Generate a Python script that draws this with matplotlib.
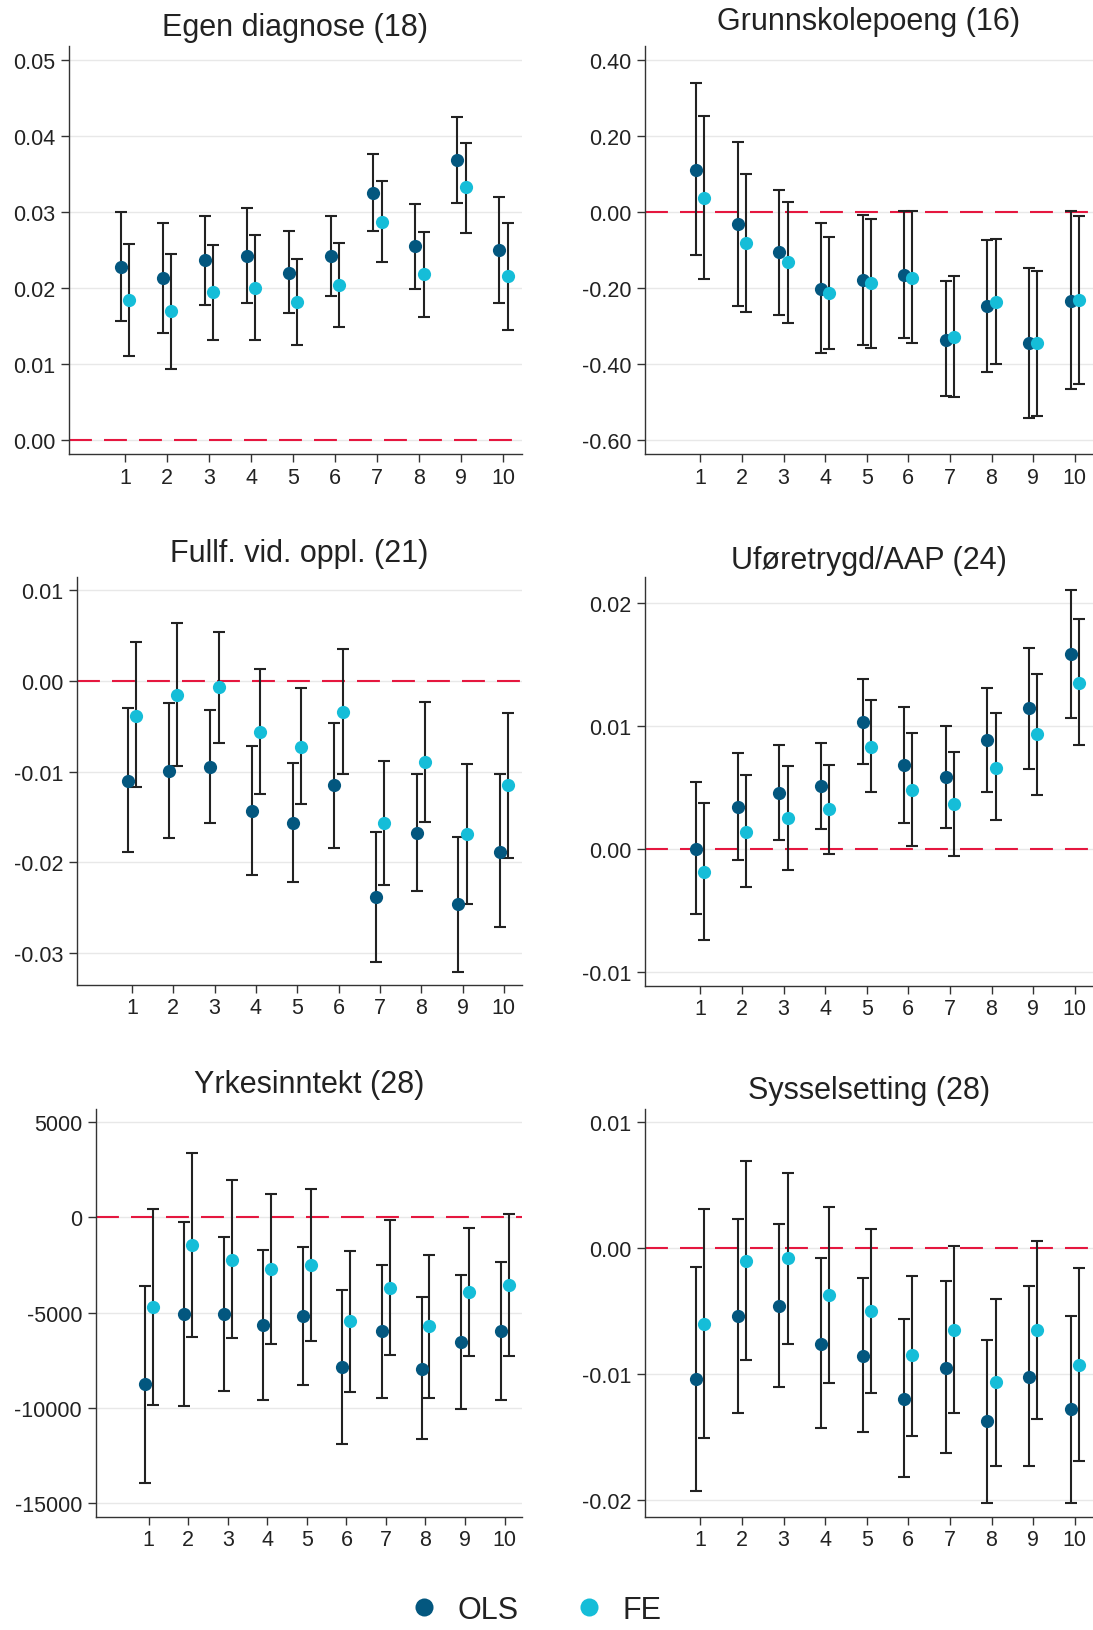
import numpy as np
import matplotlib
matplotlib.use("Agg")
import matplotlib.pyplot as plt
from matplotlib.lines import Line2D
from matplotlib.ticker import FuncFormatter

plt.rcParams['font.family'] = ['Liberation Sans', 'DejaVu Sans']
plt.rcParams['axes.unicode_minus'] = False

deciles = np.arange(1, 11)

# Egen diagnose (18)
egen_ols = [0.0228, 0.0213, 0.0236, 0.0242, 0.0220, 0.0242, 0.0325, 0.0255, 0.0368, 0.0250]
egen_ols_lo = [0.0157, 0.0141, 0.0178, 0.0180, 0.0167, 0.0189, 0.0275, 0.0199, 0.0312, 0.0180]
egen_ols_hi = [0.0300, 0.0285, 0.0295, 0.0305, 0.0275, 0.0295, 0.0376, 0.0310, 0.0424, 0.0320]
egen_fe = [0.0184, 0.0169, 0.0194, 0.0200, 0.0181, 0.0204, 0.0287, 0.0218, 0.0332, 0.0215]
egen_fe_lo = [0.0110, 0.0094, 0.0132, 0.0132, 0.0125, 0.0148, 0.0234, 0.0162, 0.0272, 0.0145]
egen_fe_hi = [0.0258, 0.0245, 0.0256, 0.0269, 0.0238, 0.0259, 0.0341, 0.0274, 0.0391, 0.0285]

# Grunnskolepoeng (16)
grunn_ols = [0.110, -0.034, -0.107, -0.203, -0.180, -0.167, -0.337, -0.249, -0.346, -0.235]
grunn_ols_lo = [-0.115, -0.248, -0.271, -0.373, -0.351, -0.333, -0.486, -0.422, -0.543, -0.467]
grunn_ols_hi = [0.337, 0.183, 0.057, -0.031, -0.008, 0.001, -0.184, -0.075, -0.148, 0.001]
grunn_fe = [0.035, -0.083, -0.134, -0.214, -0.189, -0.174, -0.330, -0.237, -0.347, -0.233]
grunn_fe_lo = [-0.178, -0.265, -0.292, -0.361, -0.359, -0.346, -0.488, -0.401, -0.537, -0.454]
grunn_fe_hi = [0.251, 0.100, 0.025, -0.066, -0.019, 0.001, -0.170, -0.071, -0.156, -0.011]

# Fullf. vid. oppl. (21)
fullf_ols = [-0.0110, -0.0099, -0.0095, -0.0143, -0.0156, -0.0115, -0.0238, -0.0168, -0.0246, -0.0188]
fullf_ols_lo = [-0.0189, -0.0173, -0.0157, -0.0214, -0.0222, -0.0184, -0.0310, -0.0232, -0.0321, -0.0271]
fullf_ols_hi = [-0.0030, -0.0024, -0.0032, -0.0072, -0.0090, -0.0046, -0.0166, -0.0103, -0.0172, -0.0103]
fullf_fe = [-0.0038, -0.0015, -0.0007, -0.0056, -0.0073, -0.0034, -0.0157, -0.0089, -0.0169, -0.0115]
fullf_fe_lo = [-0.0117, -0.0094, -0.0068, -0.0125, -0.0136, -0.0103, -0.0225, -0.0155, -0.0246, -0.0195]
fullf_fe_hi = [0.0043, 0.0064, 0.0054, 0.0013, -0.0008, 0.0035, -0.0088, -0.0023, -0.0092, -0.0035]

# Uføretrygd/AAP (24)
ufor_ols = [0.0000, 0.0034, 0.0045, 0.0051, 0.0103, 0.0068, 0.0058, 0.0088, 0.0114, 0.0158]
ufor_ols_lo = [-0.0053, -0.0009, 0.0007, 0.0016, 0.0069, 0.0021, 0.0017, 0.0046, 0.0065, 0.0106]
ufor_ols_hi = [0.0054, 0.0078, 0.0084, 0.0086, 0.0138, 0.0115, 0.0100, 0.0131, 0.0163, 0.0210]
ufor_fe = [-0.0019, 0.0014, 0.0025, 0.0032, 0.0083, 0.0048, 0.0036, 0.0066, 0.0093, 0.0135]
ufor_fe_lo = [-0.0074, -0.0031, -0.0017, -0.0004, 0.0046, 0.0002, -0.0006, 0.0023, 0.0044, 0.0084]
ufor_fe_hi = [0.0037, 0.0060, 0.0067, 0.0068, 0.0121, 0.0094, 0.0079, 0.0110, 0.0142, 0.0187]

# Yrkesinntekt (28)
yrk_ols = [-8750, -5070, -5070, -5650, -5180, -7870, -5970, -7930, -6530, -5970]
yrk_ols_lo = [-13910, -9870, -9100, -9570, -8780, -11900, -9450, -11640, -10030, -9570]
yrk_ols_hi = [-3590, -230, -1030, -1730, -1540, -3820, -2490, -4180, -3010, -2350]
yrk_fe = [-4720, -1470, -2210, -2710, -2490, -5440, -3680, -5720, -3900, -3570]
yrk_fe_lo = [-9850, -6250, -6330, -6630, -6460, -9150, -7210, -9470, -7260, -7260]
yrk_fe_hi = [420, 3360, 1940, 1210, 1490, -1750, -120, -1980, -540, 160]

# Sysselsetting (28)
syss_ols = [-0.0104, -0.0054, -0.0046, -0.0076, -0.0086, -0.0120, -0.0095, -0.0137, -0.0102, -0.0128]
syss_ols_lo = [-0.0193, -0.0131, -0.0110, -0.0143, -0.0146, -0.0182, -0.0163, -0.0202, -0.0173, -0.0202]
syss_ols_hi = [-0.0015, 0.0023, 0.0019, -0.0008, -0.0024, -0.0056, -0.0026, -0.0073, -0.0030, -0.0054]
syss_fe = [-0.0060, -0.0010, -0.0008, -0.0037, -0.0050, -0.0085, -0.0065, -0.0106, -0.0065, -0.0093]
syss_fe_lo = [-0.0151, -0.0089, -0.0076, -0.0107, -0.0115, -0.0149, -0.0131, -0.0173, -0.0136, -0.0169]
syss_fe_hi = [0.0031, 0.0069, 0.0060, 0.0033, 0.0015, -0.0022, 0.0002, -0.0040, 0.0006, -0.0016]

titles = ["Egen diagnose (18)", "Grunnskolepoeng (16)", "Fullf. vid. oppl. (21)",
          "Uføretrygd/AAP (24)", "Yrkesinntekt (28)", "Sysselsetting (28)"]

panels = [
    (egen_ols, egen_ols_lo, egen_ols_hi, egen_fe, egen_fe_lo, egen_fe_hi),
    (grunn_ols, grunn_ols_lo, grunn_ols_hi, grunn_fe, grunn_fe_lo, grunn_fe_hi),
    (fullf_ols, fullf_ols_lo, fullf_ols_hi, fullf_fe, fullf_fe_lo, fullf_fe_hi),
    (ufor_ols, ufor_ols_lo, ufor_ols_hi, ufor_fe, ufor_fe_lo, ufor_fe_hi),
    (yrk_ols, yrk_ols_lo, yrk_ols_hi, yrk_fe, yrk_fe_lo, yrk_fe_hi),
    (syss_ols, syss_ols_lo, syss_ols_hi, syss_fe, syss_fe_lo, syss_fe_hi),
]

yticks = [
    np.arange(0, 0.051, 0.01),
    np.arange(-0.6, 0.41, 0.2),
    np.arange(-0.03, 0.011, 0.01),
    np.arange(-0.01, 0.021, 0.01),
    np.arange(-15000, 5001, 5000),
    np.arange(-0.02, 0.011, 0.01),
]
ylims = [(-0.00184, 0.0518), (-0.638, 0.4356), (-0.03352, 0.01148),
         (-0.01115, 0.02208), (-15713, 5687), (-0.02134, 0.01104)]
fmts = ["{:.2f}", "{:.2f}", "{:.2f}", "{:.2f}", "{:.0f}", "{:.2f}"]

# axes boxes in pixels: left, top, right, bottom ; title centre y
W, H = 1093, 1631
boxes = [(69, 47, 522, 455), (645, 47, 1093, 455),
         (77, 578, 522, 986), (645, 578, 1093, 987),
         (96, 1110, 522, 1518), (645, 1110, 1093, 1518)]
title_y = [28, 22, 554, 561, 1085, 1091]

OLS_C = "#03577f"
FE_C = "#15bdd8"
BAR_C = "#222222"
RED = "#e5173f"
TXT = "#222222"

fig = plt.figure(figsize=(W / 100, H / 100), dpi=100)

for i, (vals, box) in enumerate(zip(panels, boxes)):
    l, t, r, b = box
    ax = fig.add_axes([l / W, 1 - b / H, (r - l) / W, (b - t) / H])
    ols, ols_lo, ols_hi, fe, fe_lo, fe_hi = [np.array(v, dtype=float) for v in vals]

    ax.axhline(0, color=RED, lw=1.5, dashes=(11, 5.8), zorder=2)
    for x, y, lo, hi, c in [(deciles - 0.1, ols, ols_lo, ols_hi, OLS_C),
                            (deciles + 0.1, fe, fe_lo, fe_hi, FE_C)]:
        ax.errorbar(x, y, yerr=[y - lo, hi - y], fmt='none', ecolor=BAR_C,
                    elinewidth=1.5, capsize=4, capthick=1.5, zorder=3)
        ax.plot(x, y, 'o', color=c, ms=9.5, mec='none', zorder=4)

    ax.set_xlim(-0.33, 10.44)
    ax.set_ylim(*ylims[i])
    ax.set_xticks(deciles)
    ax.set_yticks(yticks[i])
    f = fmts[i]
    ax.yaxis.set_major_formatter(FuncFormatter(lambda v, p, f=f: f.format(0 if abs(v) < 1e-9 else v)))
    ax.grid(axis='y', color='#e8e8e8', lw=1, zorder=0)
    ax.set_axisbelow(True)
    for s in ['top', 'right']:
        ax.spines[s].set_visible(False)
    for s in ['left', 'bottom']:
        ax.spines[s].set_color('#333333')
        ax.spines[s].set_linewidth(1)
    ax.tick_params(axis='both', length=6, width=1, color='#333333',
                   labelsize=15.5, labelcolor=TXT)
    ax.tick_params(axis='y', pad=4)
    ax.tick_params(axis='x', pad=3)

    fig.text((l + r) / 2 / W, 1 - title_y[i] / H, titles[i], ha='center',
             va='center', fontsize=22, color=TXT)

handles = [Line2D([], [], marker='o', ls='none', color=OLS_C, ms=13, mec='none'),
           Line2D([], [], marker='o', ls='none', color=FE_C, ms=13, mec='none')]
fig.legend(handles, ["OLS", "FE"], loc='center', bbox_to_anchor=(538 / W, 1 - 1611 / H),
           ncol=2, frameon=False, fontsize=22, handlelength=0.6, handletextpad=0.8,
           columnspacing=2.0, labelcolor=TXT, borderpad=0.1)

fig.savefig("out.png", dpi=100)
